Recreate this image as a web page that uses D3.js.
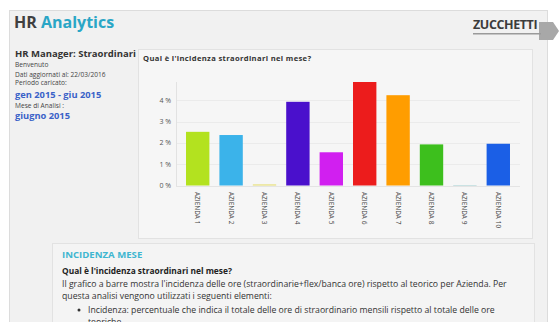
<!DOCTYPE html>
<html>
<head>
<meta charset="utf-8">
<script src="https://cdn.jsdelivr.net/npm/d3@7"></script>
<style>
  html, body { margin: 0; padding: 0; background: #fff; }
  svg { display: block; font-family: "Open Sans", "DejaVu Sans", sans-serif; }
</style>
</head>
<body>
<div id="chart"></div>
<script>
// data
const aziende = ['AZIENDA 1', 'AZIENDA 2', 'AZIENDA 3', 'AZIENDA 4', 'AZIENDA 5',
  'AZIENDA 6', 'AZIENDA 7', 'AZIENDA 8', 'AZIENDA 9', 'AZIENDA 10']
const incidenza = [2.52, 2.37, 0.05, 3.93, 1.56, 4.86, 4.24, 1.93, 0.02, 1.96]
const colori = ['#b3e21f', '#3bb3ea', '#e6de6e', '#4a10cc', '#d11ff0',
  '#ec1c1c', '#ff9d00', '#3dbf1d', '#8fc7c9', '#1b5fe6']
const yTicks = [0, 1, 2, 3, 4]

const width = 559, height = 322
const svg = d3.select('#chart').append('svg')
  .attr('width', width)
  .attr('height', height)

// page frame
svg.append('rect').attr('x', 0).attr('y', 0).attr('width', width).attr('height', height).attr('fill', '#fff')
svg.append('rect').attr('x', 9.5).attr('y', 10.5).attr('width', 538).attr('height', 320)
  .attr('fill', '#f1f1f1').attr('stroke', '#dcdcdc')

// header
const title = svg.append('text').attr('x', 14).attr('y', 28)
  .style('font-size', '16px').style('font-weight', 'bold')
title.append('tspan').attr('fill', '#404040').text('HR ')
title.append('tspan').attr('fill', '#2aa6c6').text('Analytics')

// logo
const logo = svg.append('g').attr('transform', 'translate(473, 0)')
logo.append('path').attr('d', 'M66,22 L80,22 L86,31 L80,40 L66,40 Z').attr('fill', '#a8a8a8')
logo.append('text').attr('x', 0).attr('y', 29)
  .style('font-size', '12.5px').style('font-weight', 'bold').attr('fill', '#3c3c3c')
  .style('letter-spacing', '-0.4px').text('ZUCCHETTI')
logo.append('rect').attr('x', 0).attr('y', 33).attr('width', 68).attr('height', 1.5).attr('fill', '#9a9a9a')

// left info panel
const info = svg.append('g').attr('transform', 'translate(15, 0)')
info.append('text').attr('x', 0).attr('y', 56.5).style('font-size', '9.5px').style('font-weight', 'bold')
  .attr('fill', '#333').text('HR Manager: Straordinari')
const small = [['Benvenuto', 67], ['Dati aggiornati al: 22/03/2016', 76.5], ['Periodo caricato:', 85], ['Mese di Analisi :', 108]]
small.forEach(d => {
  info.append('text').attr('x', 0).attr('y', d[1]).style('font-size', '6.6px')
    .attr('fill', '#444').text(d[0])
})
info.append('text').attr('x', 0).attr('y', 97.5).style('font-size', '9.3px').style('font-weight', 'bold')
  .attr('fill', '#3a62c8').text('gen 2015 - giu 2015')
info.append('text').attr('x', 0).attr('y', 119).style('font-size', '9.3px').style('font-weight', 'bold')
  .attr('fill', '#3a62c8').text('giugno 2015')

// chart panel
svg.append('rect').attr('x', 138.5).attr('y', 49.5).attr('width', 394).attr('height', 189)
  .attr('fill', '#f6f6f6').attr('stroke', '#e2e2e2')
svg.append('text').attr('x', 143).attr('y', 61).style('font-size', '7.6px').style('font-weight', 'bold')
  .style('letter-spacing', '0.35px')
  .attr('fill', '#333').text('Qual è l\'incidenza  straordinari  nel mese?')

const x = d3.scaleBand().domain(aziende).range([181, 515]).paddingInner(0.3).paddingOuter(0.15)
const y = d3.scaleLinear().domain([0, d3.max(incidenza)]).range([185.5, 82])

const g = svg.append('g')
g.append('g').selectAll('line')
  .data(yTicks)
  .enter().append('line')
  .attr('x1', 176).attr('x2', 520)
  .attr('y1', d => Math.round(y(d)) + 0.5).attr('y2', d => Math.round(y(d)) + 0.5)
  .attr('stroke', d => d === 0 ? '#e4e4e4' : '#ebebeb')

g.append('line').attr('x1', 176.5).attr('x2', 176.5).attr('y1', 82).attr('y2', 186)
  .attr('stroke', '#e2e2e2')

g.append('g').selectAll('text')
  .data(yTicks)
  .enter().append('text')
  .attr('x', 171).attr('y', d => y(d) + 2.5)
  .attr('text-anchor', 'end')
  .style('font-size', '7px')
  .attr('fill', '#555')
  .text(d => d + ' %')

g.append('g').selectAll('rect')
  .data(incidenza)
  .enter().append('rect')
  .attr('x', (d, i) => x(aziende[i]))
  .attr('width', x.bandwidth())
  .attr('y', d => y(d))
  .attr('height', d => y(0) - y(d))
  .attr('fill', (d, i) => colori[i])

g.append('g').selectAll('text')
  .data(aziende)
  .enter().append('text')
  .attr('transform', d => `translate(${x(d) + x.bandwidth() / 2 - 2.5}, 192) rotate(90)`)
  .style('font-size', '6.5px')
  .attr('fill', '#444')
  .text(d => d)

// description panel
svg.append('rect').attr('x', 52.5).attr('y', 243.5).attr('width', 482).attr('height', 90)
  .attr('fill', '#f4f4f4').attr('stroke', '#e2e2e2')
svg.append('text').attr('x', 62).attr('y', 258).style('font-size', '9.6px').style('font-weight', 'bold')
  .attr('fill', '#3fb6d0').text('INCIDENZA MESE')
svg.append('text').attr('x', 62).attr('y', 274).style('font-size', '8.4px').style('font-weight', 'bold')
  .attr('fill', '#222').text('Qual è l\'incidenza straordinari nel mese?')
const righe = [
  [62, 287, 'Il grafico a barre mostra l\'incidenza delle ore (straordinarie+flex/banca ore) rispetto al teorico per Azienda. Per'],
  [62, 299, 'questa analisi vengono utilizzati i seguenti elementi:'],
  [88, 313, 'Incidenza: percentuale che indica il totale delle ore di straordinario mensili rispetto al totale delle ore'],
  [88, 324.5, 'teoriche']
]
righe.forEach(r => {
  svg.append('text').attr('x', r[0]).attr('y', r[1]).style('font-size', '8.7px')
    .attr('fill', '#333').text(r[2])
})
svg.append('circle').attr('cx', 79).attr('cy', 310).attr('r', 1.5).attr('fill', '#333')
</script>
</body>
</html>
